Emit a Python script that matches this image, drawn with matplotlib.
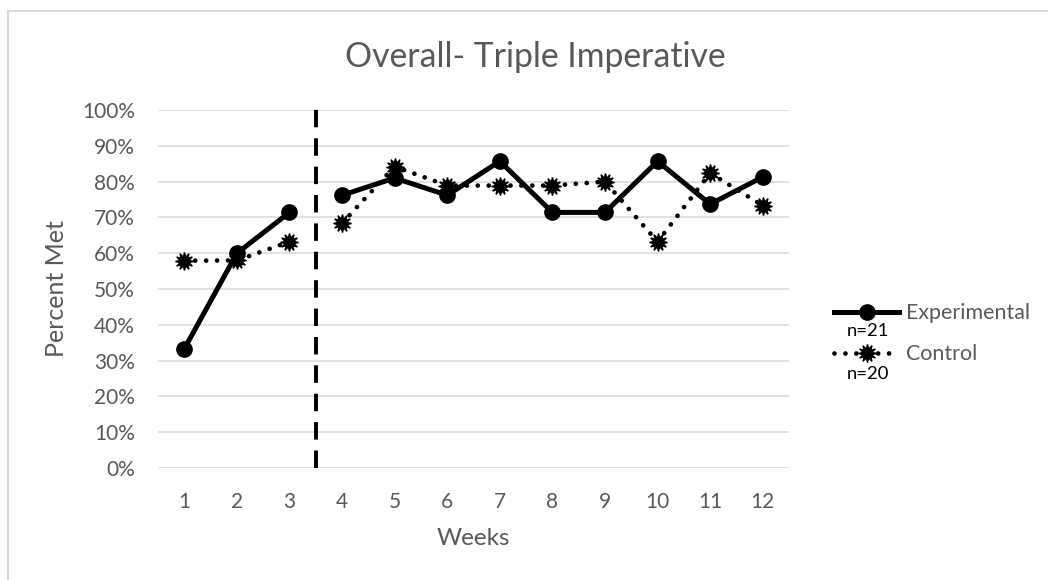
import numpy as np
import matplotlib
matplotlib.use("Agg")
import matplotlib.pyplot as plt
from matplotlib.lines import Line2D
from matplotlib.patches import Rectangle

weeks = [1, 2, 3, 4, 5, 6, 7, 8, 9, 10, 11, 12]
experimental = [33.3, 60.0, 71.4, 76.2, 81.0, 76.2, 85.7, 71.4, 71.4, 85.7, 73.7, 81.3]
control = [57.9, 58.0, 63.2, 68.4, 84.2, 78.9, 78.9, 78.9, 80.0, 63.2, 82.4, 73.3]
n_experimental = 21
n_control = 20
phase_break = 3.5   # intervention starts after week 3

plt.rcParams['font.family'] = ['Lato', 'DejaVu Sans']
grey = '#595959'

fig = plt.figure(figsize=(10.48, 5.8), dpi=100)
ax = fig.add_axes([0.1508, 0.1931, 0.6021, 0.6172])

wk = np.array(weeks)
exp = np.array(experimental) / 100
ctl = np.array(control) / 100
pre = wk < phase_break
post = ~pre

star = (12, 1, 0)
for m in (pre, post):
    ax.plot(wk[m], ctl[m], color='black', lw=3.4, linestyle=(0, (0.01, 2.3)),
            dash_capstyle='round', marker=star, ms=13, zorder=3)
    ax.plot(wk[m], exp[m], color='black', lw=3.6, marker='o', ms=11,
            solid_capstyle='round', zorder=4)

ax.plot([phase_break, phase_break], [0, 1.012], color='black', lw=2.8,
        linestyle=(0, (4.5, 2.8)), clip_on=False, zorder=2)

ax.set_xlim(0.5, 12.5)
ax.set_ylim(0, 1)
ax.set_xticks(weeks)
ax.set_xticklabels([str(w) for w in weeks])
yt = np.arange(0, 1.01, 0.1)
ax.set_yticks(yt)
ax.set_yticklabels([f"{int(round(v * 100))}%" for v in yt])
ax.tick_params(length=0, labelsize=15, labelcolor=grey)
ax.tick_params(axis='y', pad=16.5)
ax.tick_params(axis='x', pad=17)
ax.grid(axis='y', color='#d9d9d9', lw=1.1)
ax.set_axisbelow(True)
for s in ax.spines.values():
    s.set_visible(False)

ax.set_xlabel('Weeks', fontsize=17.5, color=grey, labelpad=12)
ax.set_ylabel('Percent Met', fontsize=18, color=grey, labelpad=10)
fig.text(0.511, 0.902, 'Overall- Triple Imperative', fontsize=24.3, color=grey,
         ha='center', va='center')

handles = [
    Line2D([], [], color='black', lw=3.6, marker='o', ms=11),
    Line2D([], [], color='black', lw=3.4, linestyle=(0, (0.01, 2.3)),
           dash_capstyle='round', marker=star, ms=13),
]
leg = fig.legend(handles, ['Experimental', 'Control'], loc='upper left',
                 bbox_to_anchor=(0.786, 0.496), frameon=False, fontsize=15.4,
                 labelcolor=grey, handlelength=3.0, handletextpad=0.35,
                 labelspacing=1.0, borderpad=0)

fig.text(0.828, 0.430, f"n={n_experimental}", fontsize=13.3, ha='center', va='center')
fig.text(0.828, 0.356, f"n={n_control}", fontsize=13.3, ha='center', va='center')

fig.patches.append(Rectangle((8 / 1048, -0.1), 1.2, 1.1 - 11 / 580,
                             transform=fig.transFigure, fill=False,
                             edgecolor='#d9d9d9', lw=1.5, clip_on=False))

fig.savefig('out.png', dpi=100)
